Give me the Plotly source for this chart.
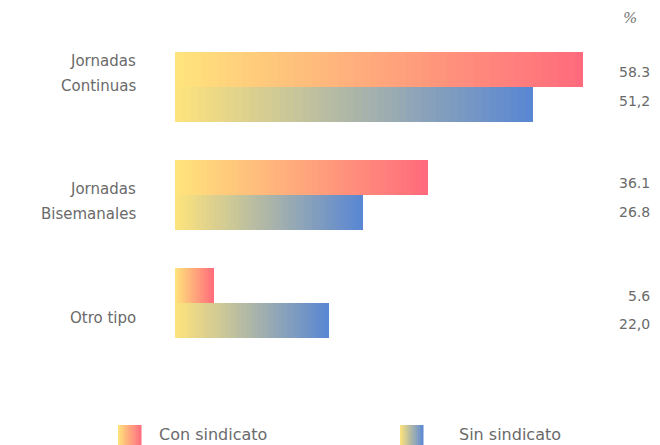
import plotly.graph_objects as go

# Data
categories = ["Jornadas<br>Continuas", "Jornadas<br>Bisemanales", "Otro tipo"]
con_sindicato = [58.3, 36.1, 5.6]
sin_sindicato = [51.2, 26.8, 22.0]
con_labels = ["58.3", "36.1", "5.6"]
sin_labels = ["51,2", "26.8", "22,0"]
series_names = ["Con sindicato", "Sin sindicato"]

# Gradient colours: every bar fades from yellow (left) to its series colour (right)
YELLOW = (255, 228, 124)
END_COLORS = [(255, 106, 124), (88, 134, 212)]
N_STEPS = 48

FONT = "DejaVu Sans"
TEXT_COLOR = "#6a6a6a"

BAR_W = 0.32
OFFSETS = [-BAR_W / 2, BAR_W / 2]

# Plot area in pixels (left, width, bottom, height)
PLOT_L, PLOT_W, PLOT_B, PLOT_H = 175, 425, 357, 324

# Pixel nudges for the category captions and value labels of each group
CAPTION_SHIFT = [14, -6, -15]
CAPTION_LINE_GAP = 25
VALUE_SHIFT = [(15, -14), (12, -17), (7, -21)]


def mix(c0, c1, t):
    r, g, b = (round(a + (b_ - a) * t) for a, b_ in zip(c0, c1))
    return f"rgb({r},{g},{b})"


def px_x(p):
    return (p - PLOT_L) / PLOT_W


def px_y(p):
    return (PLOT_B - p) / PLOT_H


fig = go.Figure()

for s, values in enumerate([con_sindicato, sin_sindicato]):
    ypos = [i + OFFSETS[s] for i in range(len(values))]
    # Longest segment first (full colour), shorter ones drawn on top toward yellow
    for k in range(N_STEPS):
        frac = (N_STEPS - k) / N_STEPS
        t = (N_STEPS - k - 0.5) / N_STEPS
        fig.add_trace(go.Bar(
            x=[v * frac for v in values],
            y=ypos,
            base=0,
            orientation="h",
            width=BAR_W,
            marker=dict(color=mix(YELLOW, END_COLORS[s], t), line=dict(width=0)),
            showlegend=False,
            hoverinfo="skip",
        ))

# Category captions, right-aligned left of the bars
for i, cat in enumerate(categories):
    lines = cat.split("<br>")
    n = len(lines)
    for j, line in enumerate(lines):
        offset = (j - (n - 1) / 2) * CAPTION_LINE_GAP
        fig.add_annotation(
            x=px_x(138), xref="paper", y=i, yref="y",
            text=line, showarrow=False, xanchor="right", yanchor="middle",
            yshift=CAPTION_SHIFT[i] - offset,
            font=dict(family=FONT, size=15, color=TEXT_COLOR),
        )

# Value labels at right
for i in range(len(categories)):
    for s, labels in enumerate([con_labels, sin_labels]):
        fig.add_annotation(
            x=px_x(652), xref="paper", y=i, yref="y",
            text=labels[i], showarrow=False, xanchor="right", yanchor="middle",
            yshift=VALUE_SHIFT[i][s],
            font=dict(family=FONT, size=14, color=TEXT_COLOR),
        )

fig.add_annotation(
    x=px_x(630), xref="paper", y=px_y(18), yref="paper", text="%", showarrow=False,
    xanchor="center", yanchor="middle",
    font=dict(family="DejaVu Serif", size=15, color="#777777", style="italic"),
)

# Custom legend with gradient swatches
legend_items = [(118, 141, 157), (400, 423, 457)]
for s, (x0, x1, tx) in enumerate(legend_items):
    steps = 12
    for k in range(steps):
        a = x0 + (x1 - x0) * k / steps
        b = x0 + (x1 - x0) * (k + 1) / steps + 0.5
        fig.add_shape(
            type="rect", xref="paper", yref="paper",
            x0=px_x(a), x1=px_x(b), y0=px_y(425), y1=px_y(445),
            fillcolor=mix(YELLOW, END_COLORS[s], (k + 0.5) / steps),
            line=dict(width=0), layer="above",
        )
    fig.add_annotation(
        x=px_x(tx), xref="paper", y=px_y(434), yref="paper",
        text=series_names[s], showarrow=False, xanchor="left", yanchor="middle",
        font=dict(family=FONT, size=16, color=TEXT_COLOR),
    )

fig.update_layout(
    width=660, height=445,
    margin=dict(l=PLOT_L, r=660 - PLOT_L - PLOT_W, t=33, b=445 - PLOT_B),
    paper_bgcolor="white", plot_bgcolor="white",
    barmode="overlay", bargap=0,
    showlegend=False,
    xaxis=dict(range=[0, PLOT_W / 7.0], visible=False, fixedrange=True),
    yaxis=dict(
        range=[2.5, -0.5], tickmode="array", tickvals=list(range(len(categories))),
        showticklabels=False, showgrid=False, zeroline=False, showline=False,
        ticks="",
    ),
)

fig.write_html("out.html")
